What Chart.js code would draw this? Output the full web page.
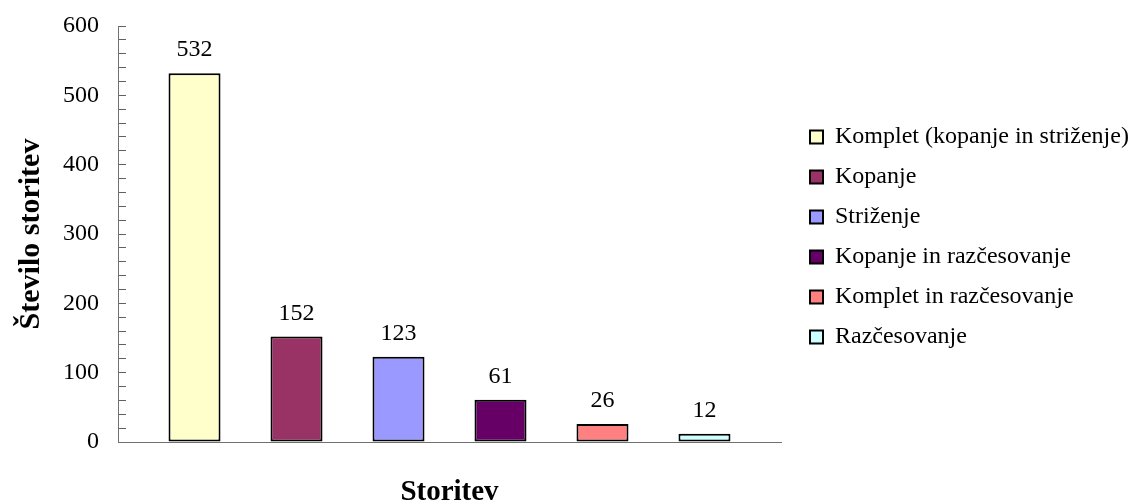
<!DOCTYPE html>
<html>
<head>
    <title>Število storitev</title>
    <script src="https://cdn.jsdelivr.net/npm/chart.js"></script>
    <style>
        body {
            margin: 0;
            background-color: white;
        }
        #wrap {
            width: 1137px;
            height: 502px;
        }
    </style>
</head>
<body>
    <div id="wrap">
        <canvas id="storitveChart" width="1137" height="502"></canvas>
    </div>

    <script>
        // one series per service, like the original spreadsheet
        let seriesNames = [
            'Komplet (kopanje in striženje)',
            'Kopanje',
            'Striženje',
            'Kopanje in razčesovanje',
            'Komplet in razčesovanje',
            'Razčesovanje'
        ];
        let seriesValues = [532, 152, 123, 61, 26, 12];
        let seriesColors = ['#FFFFCC', '#993366', '#9999FF', '#660066', '#FF8080', '#CCFFFF'];
        let categories = [''];
        let yTickLabels = [0, 100, 200, 300, 400, 500, 600];

        let serif = "'Liberation Serif', 'Times New Roman', serif";

        // value above every bar
        let valueLabels = {
            id: 'valueLabels',
            afterDatasetsDraw(chart) {
                let ctx = chart.ctx;
                ctx.save();
                ctx.font = '24px ' + serif;
                ctx.fillStyle = '#000';
                ctx.textAlign = 'center';
                ctx.textBaseline = 'alphabetic';
                chart.data.datasets.forEach((ds, i) => {
                    let bar = chart.getDatasetMeta(i).data[0];
                    ctx.fillText(ds.data[0], bar.x, bar.y - 17);
                });
                ctx.restore();
            }
        };

        // put the legend to the right of the plot, like Excel does
        let legendPlace = {
            id: 'legendPlace',
            afterLayout(chart) {
                let lg = chart.legend;
                lg.left = 794;
                lg.right = 1137;
                lg.top = 0;
                lg.bottom = 474;
            }
        };

        let datasets = seriesNames.map((name, i) => ({
            label: name,
            data: [seriesValues[i]],
            backgroundColor: seriesColors[i],
            borderColor: '#000000',
            borderWidth: 2,
            borderSkipped: false
        }));

        new Chart(document.getElementById('storitveChart'), {
            type: 'bar',
            data: {
                labels: categories,
                datasets: datasets
            },
            options: {
                responsive: false,
                animation: false,
                devicePixelRatio: 1,
                layout: {
                    padding: { top: 26, right: 356, bottom: 0, left: 0 }
                },
                categoryPercentage: 0.923,
                barPercentage: 0.51,
                plugins: {
                    tooltip: { enabled: false },
                    legend: {
                        position: 'chartArea',
                        labels: {
                            font: { family: serif, size: 24 },
                            color: '#000',
                            boxWidth: 13,
                            boxHeight: 13,
                            padding: 16
                        }
                    }
                },
                scales: {
                    x: {
                        type: 'category',
                        afterFit(scale) { scale.height = 60; },
                        ticks: { display: false },
                        grid: { display: true, drawOnChartArea: false, drawTicks: false },
                        border: { display: true, color: '#707070', width: 1 },
                        title: {
                            display: true,
                            text: 'Storitev',
                            color: '#000',
                            font: { family: serif, size: 29, weight: 'bold', lineHeight: 1 },
                            padding: { top: 0, bottom: -5 }
                        }
                    },
                    y: {
                        min: 0,
                        max: 600,
                        afterFit(scale) {
                            scale.width = 118;
                            // tick padding is big only because the ticks point inwards
                            scale.paddingTop = 14;
                            scale.paddingBottom = 0;
                        },
                        ticks: {
                            stepSize: 20,
                            autoSkip: false,
                            padding: 27,
                            color: '#000',
                            font: { family: serif, size: 24 },
                            callback: (v) => yTickLabels.includes(v) ? String(v) : ''
                        },
                        grid: {
                            drawOnChartArea: false,
                            tickLength: -8,
                            color: '#606060'
                        },
                        border: { display: true, color: '#707070', width: 1 },
                        title: {
                            display: true,
                            text: 'Število storitev',
                            color: '#000',
                            font: { family: serif, size: 30, weight: 'bold', lineHeight: 1 },
                            padding: { top: 16, bottom: 0 }
                        }
                    }
                }
            },
            plugins: [valueLabels, legendPlace]
        });
    </script>
</body>
</html>
